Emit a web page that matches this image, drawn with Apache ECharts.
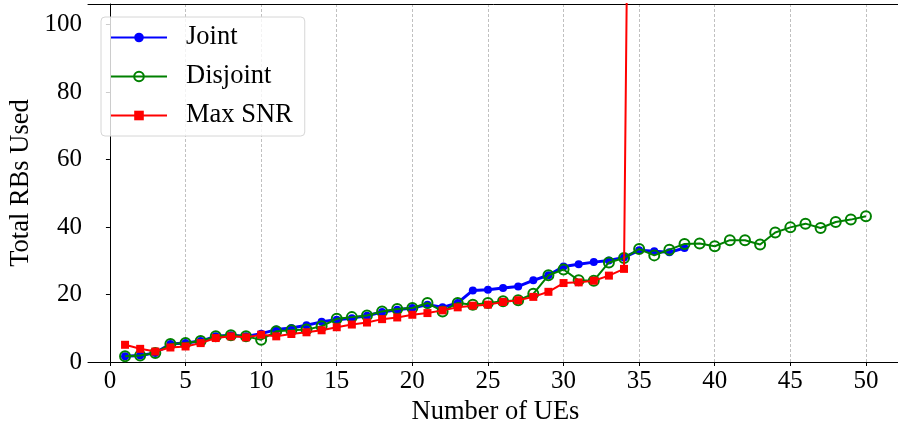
<!DOCTYPE html>
<html>
<head>
<meta charset="utf-8">
<script src="https://cdn.jsdelivr.net/npm/echarts@6/dist/echarts.min.js"></script>
<style>html,body{margin:0;padding:0;background:#fff;}#c{width:898px;height:426px;}</style>
</head>
<body>
<div id="c"></div>
<script>
const xTicks = [0, 5, 10, 15, 20, 25, 30, 35, 40, 45, 50];
const yTicks = [0, 20, 40, 60, 80, 100];
const seriesNames = ['Joint', 'Disjoint', 'Max SNR'];
const joint = [1.7, 1.9, 2.7, 5.3, 5.6, 6.2, 7.6, 7.9, 7.6, 8.4, 9.6, 10.1, 10.9, 11.9, 12.5, 13.0, 13.7, 14.8, 15.5, 16.0,
  17.0, 16.2, 17.5, 21.2, 21.4, 21.9, 22.4, 24.2, 25.7, 28.3, 29.0, 29.6, 30.1, 31.0, 33.1, 32.8, 32.5, 33.8];
const disjoint = [1.7, 1.9, 2.7, 5.3, 5.6, 6.2, 7.6, 7.9, 7.6, 6.6, 9.1, 9.4, 9.6, 10.6, 12.8, 13.3, 13.8, 15.0, 15.7, 16.0,
  17.5, 15.0, 17.5, 17.0, 17.5, 18.0, 18.3, 20.2, 25.7, 27.4, 24.2, 24.1, 29.5, 30.8, 33.5, 31.6, 33.3, 35.0, 35.1, 34.3,
  36.1, 36.1, 34.8, 38.4, 39.9, 41.0, 39.7, 41.5, 42.2, 43.2];
const maxSnr = [5.1, 3.9, 3.1, 4.3, 4.6, 5.6, 7.1, 7.6, 7.3, 8.1, 7.6, 8.3, 8.8, 9.4, 10.3, 11.1, 11.7, 12.7, 13.2, 14.0,
  14.5, 15.3, 16.2, 16.7, 17.0, 17.8, 18.3, 19.3, 20.8, 23.4, 23.6, 24.1, 25.6, 27.6, 480];

const toPairs = arr => arr.map((v, i) => [i + 1, v]);
const font = 'Liberation Serif, Times New Roman, serif';

const chart = echarts.init(document.getElementById('c'));
chart.setOption({
  animation: false,
  backgroundColor: '#fff',
  textStyle: { fontFamily: font, color: '#000' },
  grid: { left: 88, top: 4, bottom: 64, width: 815, containLabel: false, outerBoundsMode: 'none', show: false },
  legend: {
    orient: 'vertical', left: 101, top: 17,
    data: seriesNames,
    backgroundColor: 'rgba(255,255,255,0.8)',
    borderColor: '#d6d6d6', borderWidth: 1, borderRadius: 4,
    padding: [7, 12, 7, 9],
    itemGap: 12, itemWidth: 56, itemHeight: 12,
    textStyle: { fontFamily: font, fontSize: 26.5, color: '#000', padding: [0, 0, 0, 14] }
  },
  xAxis: [{
    type: 'value', min: -1.45, max: 52.45,
    name: 'Number of UEs', nameLocation: 'middle', nameGap: 33,
    nameTextStyle: { fontFamily: font, fontSize: 26.5, color: '#000' },
    axisLine: { show: true, onZero: false, lineStyle: { color: '#000', width: 1 } },
    axisTick: { show: true, inside: false, length: 4, customValues: xTicks, lineStyle: { color: '#000' } },
    axisLabel: { customValues: xTicks, fontFamily: font, fontSize: 25, color: '#000', margin: 7 },
    splitLine: { show: true, lineStyle: { color: '#b0b0b0', width: 0.8, type: [3, 2] } }
  }, {
    type: 'value', min: -1.45, max: 52.45, position: 'top',
    axisLine: { show: true, onZero: false, lineStyle: { color: '#000', width: 1 } },
    axisTick: { show: false }, axisLabel: { show: false }, splitLine: { show: false }
  }],
  yAxis: {
    type: 'value', min: 0, max: 106.1,
    name: 'Total RBs Used', nameLocation: 'middle', nameGap: 53, nameMoveOverlap: false,
    nameTextStyle: { fontFamily: font, fontSize: 26.5, color: '#000' },
    axisLine: { show: true, lineStyle: { color: '#000', width: 1 } },
    axisTick: { show: true, length: 4, customValues: yTicks, lineStyle: { color: '#000' } },
    axisLabel: { customValues: yTicks, fontFamily: font, fontSize: 25, color: '#000', margin: 6 },
    splitLine: { show: false }
  },
  series: [
    {
      name: seriesNames[0], type: 'line', data: toPairs(joint), clip: true, z: 2,
      symbol: 'circle', symbolSize: 8,
      lineStyle: { color: '#0000ff', width: 3 },
      itemStyle: { color: '#0000ff' }
    },
    {
      name: seriesNames[1], type: 'line', data: toPairs(disjoint), clip: true, z: 3,
      symbol: 'circle', symbolSize: 10,
      lineStyle: { color: '#008000', width: 2 },
      itemStyle: { color: 'rgba(0,0,0,0)', borderColor: '#008000', borderWidth: 2 }
    },
    {
      name: seriesNames[2], type: 'line', data: toPairs(maxSnr), clip: true, z: 4,
      symbol: 'rect', symbolSize: 8,
      lineStyle: { color: '#ff0000', width: 2 },
      itemStyle: { color: '#ff0000' }
    }
  ]
});
</script>
</body>
</html>
